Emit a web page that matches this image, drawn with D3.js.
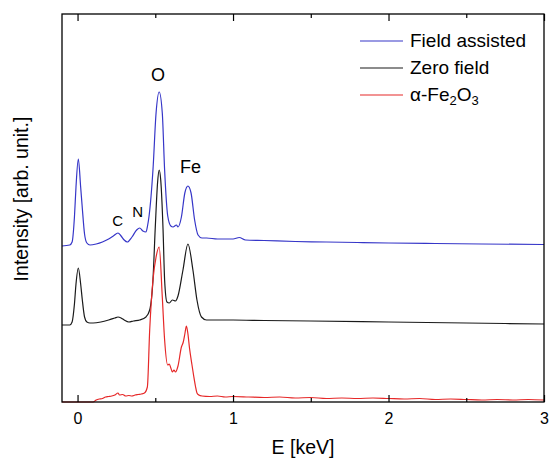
<!DOCTYPE html>
<html>
<head>
<meta charset="utf-8">
<script src="https://cdn.jsdelivr.net/npm/d3@7"></script>
<style>
  body { margin: 0; background: #fff; }
  svg { font-family: "Liberation Sans", Arial, sans-serif; }
  .axis .domain { display: none; }
  .axis line { stroke: #000; stroke-width: 1.2; }
  .axis text { font-size: 16px; fill: #000; }
</style>
</head>
<body>
<svg width="551" height="459"></svg>
<script>
// EDS spectra, offset vertically, [energy keV, intensity arb.]
const fieldAssisted = [[-0.1,156],[-0.05,157],[-0.035,160],[-0.02,185],[-0.01,215],[0.005,243],[0.02,215],[0.03,195],[0.045,168],[0.06,159],[0.08,157],[0.12,158],[0.16,160],[0.2,163],[0.23,166],[0.26,169],[0.28,166],[0.3,162],[0.32,160],[0.35,165],[0.38,172],[0.4,174],[0.42,171],[0.44,170],[0.45,176],[0.46,186],[0.485,232],[0.505,289],[0.525,310],[0.545,289],[0.56,232],[0.58,186],[0.6,176],[0.614,175],[0.636,177],[0.646,175],[0.668,185],[0.69,209],[0.71,216],[0.73,209],[0.753,182],[0.775,167],[0.8,164],[0.83,164],[0.9,163],[1.0,163],[1.04,164.5],[1.08,162],[1.2,161.5],[1.4,160.5],[1.6,160],[1.8,159.5],[2.0,159],[2.3,158.5],[2.6,158],[3.0,157.5]];

const zeroField = [[-0.1,77],[-0.05,77],[-0.035,80],[-0.02,98],[-0.01,118],[0.005,134],[0.02,118],[0.03,103],[0.045,85],[0.06,80],[0.08,79],[0.1,79],[0.15,80],[0.2,82],[0.24,84],[0.26,85],[0.28,84],[0.3,82],[0.33,80],[0.36,81],[0.4,82],[0.44,85],[0.464,92],[0.485,122],[0.5,175],[0.515,220],[0.525,232],[0.535,222],[0.55,172],[0.56,122],[0.575,100],[0.59,99],[0.61,102],[0.63,101],[0.646,106],[0.678,132],[0.71,158],[0.742,132],[0.768,102],[0.797,85],[0.83,82],[0.9,82],[1.0,82],[1.2,81.5],[1.5,81],[2.0,80],[2.5,79],[3.0,78]];

const hematite = [[-0.1,0],[0.1,0],[0.12,2],[0.14,3],[0.16,3.5],[0.18,5],[0.2,5.5],[0.22,6],[0.24,7],[0.26,9],[0.27,7],[0.29,7.5],[0.31,6],[0.33,6.5],[0.35,6],[0.37,7],[0.39,7.5],[0.41,8],[0.43,9],[0.449,15],[0.464,72],[0.485,122],[0.505,145],[0.525,155],[0.545,105],[0.56,62],[0.58,37],[0.59,38],[0.6,34],[0.61,30],[0.62,32],[0.63,30],[0.646,36],[0.668,55],[0.68,60],[0.69,68],[0.70,76],[0.71,68],[0.72,54],[0.735,38],[0.747,26],[0.758,16],[0.768,9],[0.78,7],[0.8,6],[0.85,5.5],[0.9,6],[0.95,5],[1.0,5.5],[1.1,5],[1.2,4.5],[1.3,5],[1.4,4],[1.5,4.5],[1.6,3.5],[1.7,4],[1.8,3.5],[1.9,4],[2.0,3.5],[2.1,3],[2.2,3.5],[2.3,2.5],[2.4,3],[2.5,2.5],[2.6,2],[2.7,2.5],[2.8,2],[2.9,2.5],[3.0,2]];

const seriesNames = ["Field assisted", "Zero field", "α-Fe2O3"];
const seriesColors = ["#3636c8", "#1a1a1a", "#e62828"];
const peakLabels = [["O", 0.517, 321], ["Fe", 0.726, 229], ["C", 0.258, 176], ["N", 0.386, 185]];
const majorTicks = [0, 1, 2, 3];
const minorTicks = [0.5, 1.5, 2.5];

const svg = d3.select("svg");
const plotL = 62, plotR = 544, plotT = 14, plotB = 402;

const x = d3.scaleLinear().domain([-0.1, 3]).range([plotL, plotR]);
const y = d3.scaleLinear().domain([0, 388]).range([plotB, plotT]);

const line = d3.line()
    .x(d => x(d[0]))
    .y(d => y(d[1]))
    .curve(d3.curveMonotoneX);

svg.append("g")
    .selectAll("path")
    .data([fieldAssisted, zeroField, hematite])
    .enter().append("path")
    .attr("d", line)
    .attr("fill", "none")
    .attr("stroke", (d, i) => seriesColors[i])
    .attr("stroke-width", 1.2);

// frame
svg.append("rect")
    .attr("x", plotL).attr("y", plotT)
    .attr("width", plotR - plotL).attr("height", plotB - plotT)
    .attr("fill", "none").attr("stroke", "#000").attr("stroke-width", 1.3);

// ticks pointing inward
svg.append("g").attr("class", "axis")
    .attr("transform", `translate(0,${plotB})`)
    .call(d3.axisBottom(x).tickValues(majorTicks).tickSizeInner(-7).tickSizeOuter(0).tickPadding(10.5).tickFormat(d3.format("d")));
svg.append("g").attr("class", "axis")
    .attr("transform", `translate(0,${plotB})`)
    .call(d3.axisBottom(x).tickValues(minorTicks).tickSizeInner(-4).tickSizeOuter(0).tickFormat(""));
svg.append("g").attr("class", "axis")
    .attr("transform", `translate(0,${plotT})`)
    .call(d3.axisTop(x).tickValues(majorTicks).tickSizeInner(-7).tickSizeOuter(0).tickFormat(""));
svg.append("g").attr("class", "axis")
    .attr("transform", `translate(0,${plotT})`)
    .call(d3.axisTop(x).tickValues(minorTicks).tickSizeInner(-4).tickSizeOuter(0).tickFormat(""));

// axis titles
svg.append("text")
    .attr("x", 303).attr("y", 454)
    .attr("text-anchor", "middle")
    .attr("font-size", 19.5)
    .text("E [keV]");

svg.append("text")
    .attr("transform", "translate(28,199) rotate(-90)")
    .attr("text-anchor", "middle")
    .attr("font-size", 19.5)
    .text("Intensity [arb. unit.]");

// peak labels
svg.append("g")
    .selectAll("text")
    .data(peakLabels)
    .enter().append("text")
    .attr("x", d => x(d[1]))
    .attr("y", d => y(d[2]))
    .attr("text-anchor", "middle")
    .attr("font-size", d => d[0] === "O" || d[0] === "Fe" ? 18 : 15)
    .text(d => d[0]);

// legend
const legend = svg.append("g").attr("transform", "translate(360,47)");
const rows = legend.selectAll("g")
    .data(seriesNames)
    .enter().append("g")
    .attr("transform", (d, i) => `translate(0,${i * 27})`);
rows.append("line")
    .attr("x1", 0).attr("x2", 43)
    .attr("y1", -6).attr("y2", -6)
    .attr("stroke", (d, i) => seriesColors[i])
    .attr("stroke-width", 1.2);
const lt = rows.append("text")
    .attr("x", 50)
    .attr("font-size", 19);
lt.filter((d, i) => i < 2).text(d => d);
const fe = lt.filter((d, i) => i === 2);
fe.append("tspan").text("α-Fe");
fe.append("tspan").attr("font-size", 13).attr("dy", 4).text("2");
fe.append("tspan").attr("dy", -4).text("O");
fe.append("tspan").attr("font-size", 13).attr("dy", 4).text("3");
</script>
</body>
</html>
